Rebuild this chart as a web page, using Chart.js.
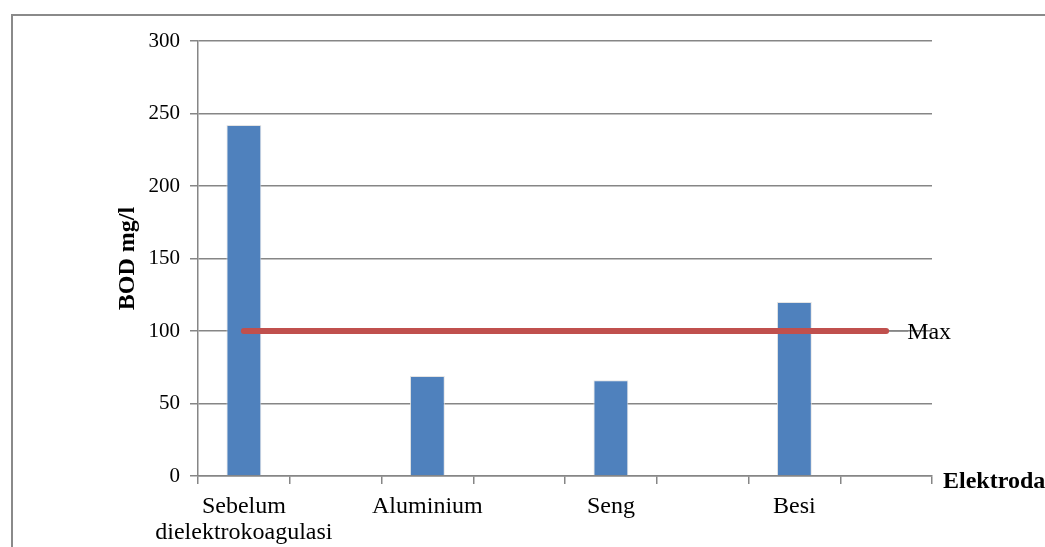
<!DOCTYPE html>
<html>
<head>
<meta charset="utf-8">
<script src="https://cdn.jsdelivr.net/npm/chart.js@4/dist/chart.umd.min.js"></script>
<style>
  html, body { margin: 0; padding: 0; background: #fff; }
  canvas { display: block; }
</style>
</head>
<body>
<canvas id="c" width="1045" height="547"></canvas>
<script>
// Categories: electrodes sit in every other slot, the empty slots space them out
const categories = [['Sebelum', 'dielektrokoagulasi'], '', 'Aluminium', '', 'Seng', '', 'Besi', ''];
// BOD (mg/l) measured for each electrode
const bodValues = [242, null, 69, null, 66, null, 120, null];
// Maximum allowed BOD threshold
const maxValues = [100, 100, 100, 100, 100, 100, 100, 100];
const yTicks = [0, 50, 100, 150, 200, 250, 300];

const serif = '"Liberation Serif", "Times New Roman", serif';
const gray = '#868686';

// Outer frame of the figure
const framePlugin = {
  id: 'frame',
  beforeDraw(chart) {
    const ctx = chart.ctx;
    ctx.save();
    ctx.strokeStyle = '#8a8a8a';
    ctx.lineWidth = 2;
    ctx.beginPath();
    ctx.moveTo(12, chart.height);
    ctx.lineTo(12, 15);
    ctx.lineTo(chart.width, 15);
    ctx.stroke();
    ctx.restore();
  }
};

// "Max" tag at the end of the threshold line and the x-axis name beside the axis
const labelsPlugin = {
  id: 'labels',
  afterDraw(chart) {
    const ctx = chart.ctx;
    ctx.save();
    const meta = chart.getDatasetMeta(1);
    const last = meta.data[meta.data.length - 1];
    ctx.strokeStyle = gray;
    ctx.lineWidth = 1.5;
    ctx.beginPath();
    ctx.moveTo(last.x + 3, last.y);
    ctx.lineTo(last.x + 22, last.y);
    ctx.stroke();
    ctx.fillStyle = '#000';
    ctx.font = '24px ' + serif;
    ctx.textAlign = 'left';
    ctx.textBaseline = 'middle';
    ctx.fillText('Max', last.x + 21, last.y + 2);

    const xs = chart.scales.x;
    ctx.font = 'bold 24px ' + serif;
    ctx.fillText('Elektroda', xs.right + 11, xs.top + 6);
    ctx.restore();
  }
};

new Chart(document.getElementById('c'), {
  data: {
    labels: categories,
    datasets: [
      {
        type: 'bar',
        label: 'BOD',
        data: bodValues,
        backgroundColor: '#4F81BD',
        borderColor: 'rgba(225,225,225,0.9)',
        borderWidth: 1,
        categoryPercentage: 1,
        barPercentage: 0.38,
        order: 1
      },
      {
        type: 'line',
        label: 'Max',
        data: maxValues,
        borderColor: '#C0504D',
        borderWidth: 6,
        borderCapStyle: 'round',
        pointRadius: 0,
        fill: false,
        order: 0
      }
    ]
  },
  options: {
    responsive: false,
    animation: false,
    devicePixelRatio: 1,
    layout: { padding: { top: 41, right: 113, left: 0, bottom: 0 } },
    plugins: {
      legend: { display: false },
      tooltip: { enabled: false }
    },
    scales: {
      x: {
        offset: true,
        grid: {
          offset: true,
          drawOnChartArea: false,
          drawTicks: true,
          tickLength: 8,
          color: gray,
          lineWidth: 1.5
        },
        border: { color: gray, width: 1.5 },
        ticks: {
          autoSkip: false,
          maxRotation: 0,
          padding: 10,
          color: '#000',
          font: { family: serif, size: 24, lineHeight: 1.08 }
        },
        afterFit(scale) { scale.height = 71; }
      },
      y: {
        min: 0,
        max: 300,
        afterBuildTicks(scale) { scale.ticks = yTicks.map(v => ({ value: v })); },
        grid: {
          color: gray,
          lineWidth: 1.5,
          drawTicks: true,
          tickLength: 8
        },
        border: { color: gray, width: 1.5 },
        ticks: {
          padding: 10,
          color: '#000',
          font: { family: serif, size: 21 }
        },
        title: {
          display: true,
          text: 'BOD mg/l',
          color: '#000',
          font: { family: serif, size: 24, weight: 'bold', lineHeight: 1.2 },
          padding: { top: 113, bottom: 0 }
        },
        afterFit(scale) { scale.width = 198; }
      }
    }
  },
  plugins: [framePlugin, labelsPlugin]
});
</script>
</body>
</html>
